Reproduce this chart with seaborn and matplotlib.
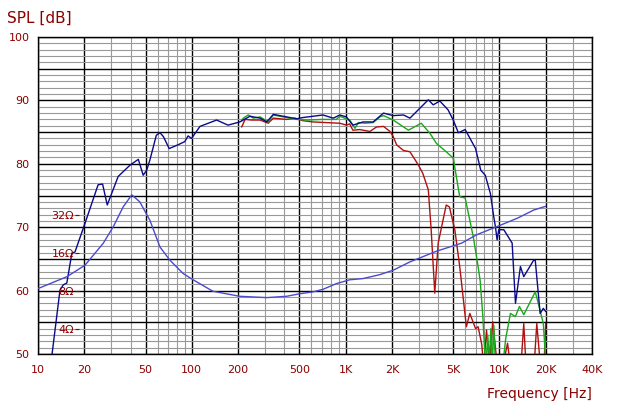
import numpy as np
import pandas as pd
import matplotlib
matplotlib.use("Agg")
import matplotlib.pyplot as plt
import seaborn as sns
from matplotlib.ticker import FixedLocator, NullFormatter

# ------------------------ data ------------------------
# full-range response (navy)
blue_freq = [12.2, 13.9, 14.6, 15.4, 16.6, 17.4, 20.2, 24.6, 26.3, 28.2, 33.2, 39.7,
             44.9, 48.3, 50.9, 53.4, 58.8, 62.1, 65.3, 71.3, 81.4, 90, 94.6, 99.6,
             113, 145, 172, 205, 239, 278, 307, 339, 413, 481, 529, 713, 831, 917,
             1012, 1115, 1297, 1510, 1765, 2040, 2380, 2620, 3050, 3450, 3710, 4100,
             4640, 5010, 5410, 5990, 7000, 7560, 8090, 8740, 9180, 9420, 9660, 9900,
             10680, 12100, 12720, 13700, 14400, 16700, 17100, 18400, 19300, 20000]
blue_spl = [49, 60.1, 60.9, 61.2, 65.9, 66.1, 70.6, 76.7, 76.8, 73.5, 78, 79.8,
            80.7, 78.2, 79, 80.6, 84.5, 84.9, 84.3, 82.4, 83, 83.5, 84.4, 84,
            85.9, 86.9, 86.1, 86.6, 87.5, 87.2, 86.6, 87.8, 87.4, 87.1, 87.3, 87.7, 87.2, 87.7,
            87.4, 86.1, 86.6, 86.6, 88.0, 87.6, 87.7, 87.2, 88.8, 90.1, 89.3, 89.9,
            88.5, 86.9, 84.9, 85.4, 82.4, 79, 78.2, 75.3, 71.7, 70.1, 68, 69.6,
            69.6, 67.5, 58, 63.8, 62.2, 64.8, 64.8, 56.4, 57.2, 56.7]

# green response
green_freq = [211, 216, 233, 251, 278, 314, 339, 373, 481, 558, 713, 870, 917, 1063,
              1150, 1210, 1335, 1510, 1670, 1765, 2040, 2560, 3105, 3535, 3900, 4510,
              5010, 5520, 5990, 6760, 7270, 7500, 7800, 8000, 8150, 8400, 8600, 8800,
              9000, 9200, 9400, 9700, 10000, 10500, 11000, 11800, 12700, 13500, 14400,
              17100, 17900, 19300, 20000]
green_spl = [86.8, 87.2, 87.7, 87.2, 87.4, 86.6, 87.7, 87.5, 87.0, 86.9, 87.0, 87.0, 87.5, 86.9,
             85.6, 86.5, 86.4, 86.5, 87.4, 87.6, 86.9, 85.3, 86.4, 84.8, 83.2, 81.9,
             80.9, 74.8, 74.6, 68.5, 63.8, 61.5, 56, 51, 48, 53, 49, 54,
             48, 54.5, 49, 48, 47, 48, 52.5, 56.4, 55.9, 57.5, 56.2,
             59.8, 58, 54.8, 49]

# red response
red_freq = [211, 222, 245, 278, 314, 339, 413, 468, 529, 614, 748, 917, 1012, 1063,
            1115, 1236, 1440, 1585, 1765, 1944, 2040, 2145, 2380, 2620, 2975, 3175,
            3450, 3600, 3800, 4000, 4510, 4730, 5130, 5520, 6100, 6420, 7000, 7270,
            7680, 7900, 8250, 8600, 9050, 9420, 9700, 10500, 11300, 11800, 13800,
            14400, 14900, 16800, 17500, 18500, 19500, 20000]
red_spl = [85.8, 87.0, 86.9, 86.9, 86.4, 87.2, 87.0, 87.2, 86.8, 86.6, 86.5, 86.4, 86.1, 86.3,
           85.3, 85.4, 85.1, 85.8, 85.9, 85.1, 84.3, 83.0, 82.1, 81.9, 79.8, 78.5,
           75.9, 69.6, 59.6, 67.5, 73.5, 73.2, 69.6, 63.8, 54.3, 56.4, 54.0, 54.3,
           51.5, 48, 53.8, 48, 55.1, 51, 48, 48, 51.7, 48, 48,
           54.8, 48, 48, 54.8, 48, 48, 54.8]

# impedance curve in ohms
imp_freq = [10, 15.4, 20.2, 26.6, 30.9, 35.8, 40.7, 45.9, 53.4, 62.1, 72.1, 88, 102,
            137, 205, 307, 413, 503, 614, 713, 870, 1063, 1297, 1670, 2040, 2620,
            3900, 5680, 7100, 9660, 13070, 16700, 20000]
imp_ohm = [8.3, 10.3, 12.7, 19.0, 25.7, 36.8, 45.8, 40.3, 28.8, 17.7, 13.9, 10.9, 9.74,
           7.91, 7.21, 7.04, 7.21, 7.55, 7.82, 8.19, 9.08, 9.74, 9.96, 10.7, 11.6, 13.5,
           16.4, 19.0, 22.1, 25.7, 29.9, 34.7, 37.2]

ohm_ticks = [4, 8, 16, 32]

x_major = [10, 20, 50, 100, 200, 500, 1000, 2000, 5000, 10000, 20000, 40000]
x_labels = ["10", "20", "50", "100", "200", "500", "1K", "2K", "5K", "10K", "20K", "40K"]
x_minor = [30, 40, 60, 70, 80, 90, 300, 400, 600, 700, 800, 900,
           3000, 4000, 6000, 7000, 8000, 9000, 30000]

# ------------------------ styling ------------------------
sns.set_style("white")
plt.rcParams["font.family"] = ["DejaVu Sans"]
LABEL = "#8b0000"
NAVY = "#0a0a8a"
GREEN = "#18a818"
RED = "#b01010"
IMPB = "#4a4ad0"

fig = plt.figure(figsize=(6.29, 4.16), dpi=100)
ax = fig.add_axes([38 / 629, 1 - 354 / 416, (592 - 38) / 629, (354 - 37) / 416])

ax.set_xscale("log")
ax.set_xlim(10, 40000)
ax.set_ylim(50, 100)

# grid
ax.xaxis.set_major_locator(FixedLocator(x_major))
ax.set_xticklabels(x_labels)
ax.xaxis.set_minor_locator(FixedLocator(x_minor))
ax.xaxis.set_minor_formatter(NullFormatter())
ax.set_yticks(np.arange(50, 101, 5))
ax.set_yticklabels([str(v) if v % 10 == 0 else "" for v in range(50, 101, 5)])
ax.set_yticks(np.arange(50, 101, 1), minor=True)
ax.grid(which="major", color="black", linewidth=1.0)
ax.grid(which="minor", color="#999999", linewidth=0.8)
ax.set_axisbelow(True)
ax.tick_params(which="both", length=0, labelsize=8, labelcolor=LABEL)
ax.tick_params(axis="x", pad=8)
ax.tick_params(axis="y", pad=6)
for s in ax.spines.values():
    s.set_color("black")
    s.set_linewidth(1.0)

# curves
for fx, fy, col in [(red_freq, red_spl, RED), (green_freq, green_spl, GREEN),
                    (blue_freq, blue_spl, NAVY)]:
    sns.lineplot(x=fx, y=fy, ax=ax, color=col, linewidth=1.0, sort=False,
                 estimator=None)

# impedance on its own log2 axis: 4 ohm <-> 54 dB, 6 dB per doubling
ax2 = ax.twinx()
ax2.set_yscale("log", base=2)
ax2.set_ylim(4 * 2 ** ((50 - 54) / 6), 4 * 2 ** ((100 - 54) / 6))
sns.lineplot(x=imp_freq, y=imp_ohm, ax=ax2, color=IMPB, linewidth=1.0, sort=False,
             estimator=None)
ax2.set_position(ax.get_position())
for s in ax2.spines.values():
    s.set_visible(False)
ax2.yaxis.set_ticks_position("left")
ax2.spines["left"].set_position(("data", 18.6))
ax2.set_yticks(ohm_ticks)
ax2.set_yticklabels([f"{z}Ω" for z in ohm_ticks])
ax2.yaxis.set_minor_locator(FixedLocator([]))
ax2.tick_params(axis="y", direction="out", length=3, width=0.8, color=LABEL,
                labelsize=8, labelcolor=LABEL, pad=1)
ax2.set_ylabel("")

ax.set_xlabel("")
ax.set_ylabel("")
fig.text(7 / 629, 1 - 18 / 416, "SPL [dB]", color=LABEL, fontsize=11, va="center")
fig.text(592 / 629, 1 - 394 / 416, "Frequency [Hz]", color=LABEL, fontsize=10,
         ha="right", va="center")

fig.savefig("out.png", dpi=100, facecolor="white")
